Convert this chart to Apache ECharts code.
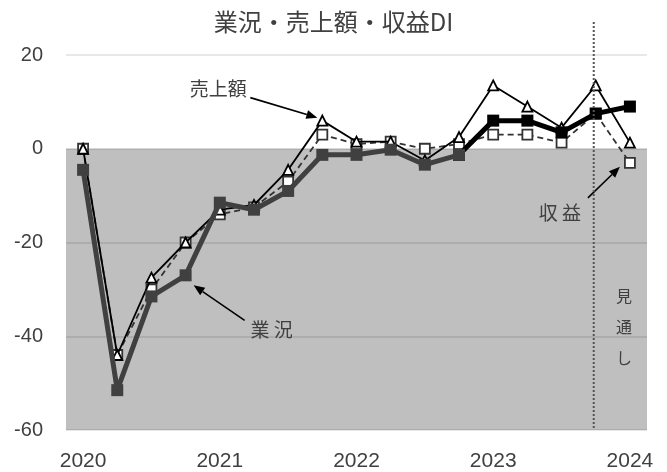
<!DOCTYPE html>
<html><head><meta charset="utf-8">
<script src="https://cdn.jsdelivr.net/npm/echarts@6/dist/echarts.min.js"></script>
<style>html,body{margin:0;padding:0;background:#fff}#c{width:667px;height:472px}</style>
</head><body><div id="c"></div>
<script>
const categories = ['2020','','','','2021','','','','2022','','','','2023','','','','2024'];
const gyokyo = [-4.5, -51.5, -31.5, -27, -11.5, -13, -9, -1.3, -1.3, -0.2, -3.4, -1.3, 6, 6, 3.5, 7.5, 9];
const uriage = [0, -44, -27.5, -20, -13, -12, -4.5, 6, 1.5, 1.5, -2.5, 2.5, 13.5, 9, 4.5, 13.5, 1.3];
const shueki = [0, -44, -30, -20, -14, -12.5, -7, 3, 1, 1.5, 0, 1, 3, 3, 1.3, 7.5, -3];
const yTicks = [-60, -40, -20, 0, 20];
const recentStart = 11;   // 業況 drawn in black from this quarter on
const forecastIndex = 15;

const gyokyoPast = gyokyo.map((v, i) => i <= recentStart ? v : null);
const gyokyoRecent = gyokyo.map((v, i) => i >= recentStart ? v : null);

const FONT_NUM = 'Liberation Sans';
const FONT_JP = 'Noto Sans CJK JP';
const chart = echarts.init(document.getElementById('c'), null, {renderer: 'canvas'});
chart.setOption({
  animation: false,
  backgroundColor: '#fff',
  title: {text: '業況・売上額・収益DI', left: 'center', top: 5,
    textStyle: {fontFamily: FONT_JP, fontSize: 24, fontWeight: 'normal', color: '#404040'}},
  grid: {left: 66, right: 20, top: 55, bottom: 42, containLabel: false},
  xAxis: {type: 'category', data: categories, boundaryGap: true,
    axisLine: {show: false}, axisTick: {show: false}, splitLine: {show: false},
    axisLabel: {interval: 0, fontFamily: FONT_NUM, fontSize: 21, color: '#404040', margin: 21}},
  yAxis: {type: 'value', min: yTicks[0], max: yTicks[yTicks.length - 1], interval: 20, z: 3,
    axisLine: {show: false}, axisTick: {show: false},
    splitLine: {lineStyle: {color: 'rgba(0,0,0,0.12)', width: 1.5}},
    axisLabel: {fontFamily: FONT_NUM, fontSize: 20, color: '#404040', margin: 23}},
  series: [
    {name: 'bg', type: 'line', data: gyokyo, z: 1, silent: true, symbol: 'none',
      lineStyle: {opacity: 0},
      markArea: {silent: true, z: 1, itemStyle: {color: '#bfbfbf'},
        data: [[{yAxis: 0}, {yAxis: yTicks[0]}]]}},
    {name: '収益', type: 'line', data: shueki, z: 5, symbol: 'rect', symbolSize: 10,
      lineStyle: {color: '#333', width: 1.8, type: [6, 4]},
      itemStyle: {color: '#fff', borderColor: '#333', borderWidth: 1.8}},
    {name: '売上額', type: 'line', data: uriage, z: 6, symbol: 'triangle', symbolSize: 10,
      lineStyle: {color: '#000', width: 1.8},
      itemStyle: {color: '#fff', borderColor: '#000', borderWidth: 1.8}},
    {name: '業況', type: 'line', data: gyokyoRecent, z: 7, symbol: 'rect', symbolSize: 12,
      lineStyle: {width: 5, color: '#000'},
      itemStyle: {color: '#000', borderWidth: 0}},
    {name: '業況', type: 'line', data: gyokyoPast, z: 8, symbol: 'rect', symbolSize: 12,
      lineStyle: {width: 5, color: '#404040'},
      itemStyle: {color: '#404040', borderWidth: 0}}
  ]
});

function pt(i, v) { return chart.convertToPixel({gridIndex: 0}, [i, v]); }
function arrow(x1, y1, x2, y2) {
  const a = Math.atan2(y2 - y1, x2 - x1), L = 11, W = 4.5;
  const bx = x2 - L * Math.cos(a), by = y2 - L * Math.sin(a);
  const px = -Math.sin(a) * W, py = Math.cos(a) * W;
  return [
    {type: 'line', z: 20, shape: {x1: x1, y1: y1, x2: bx, y2: by}, style: {stroke: '#000', lineWidth: 1.6}},
    {type: 'polygon', z: 20, shape: {points: [[x2, y2], [bx + px, by + py], [bx - px, by - py]]}, style: {fill: '#000'}}
  ];
}
function label(text, x, y, size) {
  return {type: 'text', z: 20, style: {text: text, x: x, y: y, align: 'center', verticalAlign: 'middle',
    font: (size || 19) + 'px "' + FONT_JP + '"', fill: '#404040'}};
}
const pU = pt(7, uriage[7]);
const pG = pt(3, gyokyo[3]);
const pS = pt(16, shueki[16]);
const pF = pt(forecastIndex, 0);
const pBottom = pt(0, yTicks[0]);
let g = [];
g = g.concat(arrow(pU[0] - 72, pU[1] - 23, pU[0] - 5, pU[1] - 3));
g = g.concat(arrow(pG[0] + 59, pG[1] + 45, pG[0] + 8, pG[1] + 10));
g = g.concat(arrow(pS[0] - 42, pS[1] + 35, pS[0] - 10, pS[1] + 4));
g.push(label('売上額', pU[0] - 104, pU[1] - 32));
g.push(label('業 況', pG[0] + 86, pG[1] + 54));
g.push(label('収 益', pS[0] - 70, pS[1] + 50));
g.push(label('見', pS[0] - 6, 296, 16));
g.push(label('通', pS[0] - 6, 327, 16));
g.push(label('し', pS[0] - 6, 358, 16));
g.push({type: 'line', z: 20, shape: {x1: pF[0] - 2, y1: 22, x2: pF[0] - 2, y2: pBottom[1]},
  style: {stroke: '#555', lineWidth: 2, lineDash: [2, 2]}});
chart.setOption({graphic: g});
</script></body></html>
